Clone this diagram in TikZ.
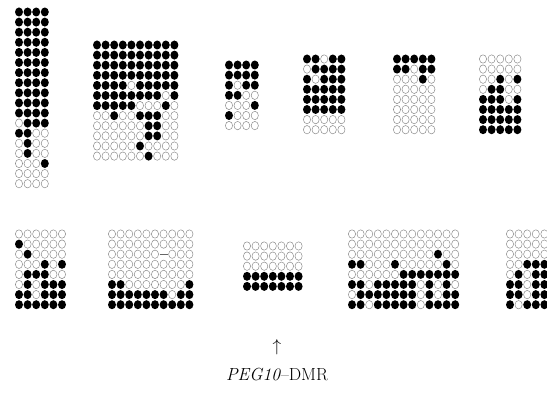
\documentclass[tikz,border=0pt]{standalone}
\usepackage{tikz}

\tikzset{
  metdot/.style={fill=black},
  unmetdot/.style={draw=black!45, line width=0.5pt},
  gapdash/.style={draw=black!60, line width=0.9pt},
}
% one block of CpG sites: x0, y0, rows (0 open, 1 filled, 2 no data)
\newcommand{\cpgblock}[3]{%
  \foreach \row [count=\j] in {#3}
    \foreach \v [count=\i] in \row {
      \coordinate (p) at ({#1+(\i-1)*8.6}, {#2+(\j-1)*10.1});
      \ifcase\v\relax
        \draw[unmetdot] (p) ellipse (3.6 and 4.2);
      \or
        \fill[metdot] (p) ellipse (4 and 4.5);
      \or
        \draw[gapdash] ([xshift=-4pt]p) -- ([xshift=4pt]p);
      \fi
    }%
}

\begin{document}
\begin{tikzpicture}[x=1pt, y=-1pt]
    \useasboundingbox (0,0) rectangle (547,396);
    % upper row
    \cpgblock{19}{12}{{1,1,1,1},{1,1,1,1},{1,1,1,1},{1,1,1,1},{1,1,1,1},{1,1,1,1},
        {1,1,1,1},{1,1,1,1},{1,1,1,1},{1,1,1,1},{1,1,1,1},{0,1,1,1},{1,1,0,0},
        {0,1,0,0},{0,1,0,0},{0,0,0,1},{0,0,0,0},{0,0,0,0}}
    \cpgblock{97}{45}{{1,1,1,1,1,1,1,1,1,1},{1,1,1,1,1,1,1,1,1,1},{1,1,1,1,1,1,1,1,1,1},
        {1,1,1,1,1,1,1,1,1,1},{1,1,1,1,0,1,1,1,1,1},{1,1,1,1,1,1,1,1,0,1},
        {1,1,1,1,1,0,0,0,1,0},{0,0,1,0,0,1,1,1,0,0},{0,0,0,0,0,0,1,1,0,0},
        {0,0,0,0,0,0,1,1,0,0},{0,0,0,0,0,1,0,0,0,0},{0,0,0,0,0,0,1,0,0,0}}
    \cpgblock{229}{65}{{1,1,1,1},{1,1,1,1},{1,0,1,1},{1,1,0,0},{0,0,0,1},{1,0,0,0},{0,0,0,0}}
    \cpgblock{307}{59}{{1,1,0,1,1},{0,1,1,1,1},{1,0,1,1,1},{1,1,1,1,1},{1,1,1,1,1},
        {1,1,1,1,1},{0,0,0,0,0},{0,0,0,0,0}}
    \cpgblock{397}{59}{{1,1,1,1,1},{1,1,0,1,1},{0,0,0,1,0},{0,0,0,0,0},{0,0,0,0,0},
        {0,0,0,0,0},{0,0,0,0,0},{0,0,0,0,0}}
    \cpgblock{483}{59}{{0,0,0,0,0},{0,0,0,0,0},{0,0,1,0,1},{0,1,1,0,0},{1,1,1,0,1},
        {1,1,1,1,1},{1,1,1,1,1},{1,1,1,1,1}}
    % lower row
    \cpgblock{19}{234}{{0,0,0,0,0,0},{1,0,0,0,0,0},{0,1,0,0,0,0},{0,0,0,1,0,1},
        {0,1,1,1,0,0},{0,1,0,1,1,1},{1,1,0,1,1,1},{1,1,1,1,1,1}}
    \cpgblock{112}{234}{{0,0,0,0,0,0,0,0,0,0},{0,0,0,0,0,0,0,0,0,0},{0,0,0,0,0,0,2,0,0,0},
        {0,0,0,0,0,0,0,0,0,0},{0,0,0,0,0,0,0,0,0,0},{1,1,0,0,0,0,0,0,0,1},
        {1,1,1,1,1,1,1,0,1,1},{1,1,1,1,1,1,1,1,1,1}}
    \cpgblock{247}{246}{{0,0,0,0,0,0,0},{0,0,0,0,0,0,0},{0,0,0,0,0,0,0},
        {1,1,1,1,1,1,1},{1,1,1,1,1,1,1}}
    \cpgblock{352}{234}{{0,0,0,0,0,0,0,0,0,0,0,0,0},{0,0,0,0,0,0,0,0,0,0,0,0,0},
        {0,0,0,0,0,0,0,0,0,0,1,0,0},{1,1,0,0,0,1,0,0,0,0,0,1,0},
        {0,0,0,0,0,0,1,1,1,1,1,1,1},{1,1,0,1,1,1,1,1,0,1,0,1,0},
        {0,1,1,1,1,1,1,1,0,1,0,1,1},{1,1,0,1,1,1,1,1,0,1,1,1,1}}
    \cpgblock{510}{234}{{0,0,0,0,0},{0,0,0,0,0},{0,0,0,0,0},{0,0,1,1,1},{0,1,0,1,1},
        {1,1,0,1,1},{1,1,0,1,1},{1,0,1,1,1}}
    % label
    \node (arrow) at (277,347) {\fontsize{17}{20}\selectfont$\uparrow$};
    \node (dmr) at (277,375) {\fontsize{17.5}{20}\selectfont\textit{PEG10}--DMR};
\end{tikzpicture}
\end{document}
